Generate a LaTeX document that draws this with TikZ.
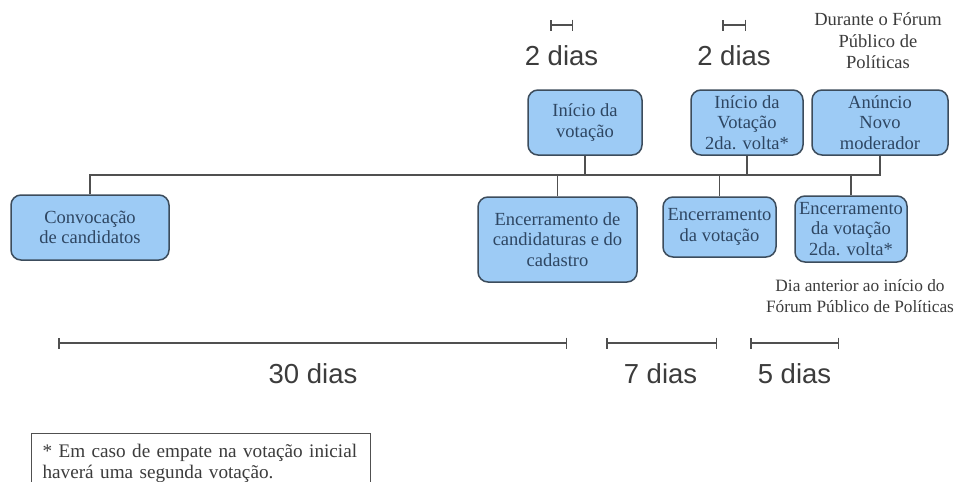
\documentclass[tikz,border=0pt]{standalone}
\usepackage{fontspec}
\setmainfont{Liberation Serif}
\newfontfamily\diasfont{Liberation Sans}
\usepackage{tikz}
\usetikzlibrary{positioning,arrows.meta}

\definecolor{boxblue}{RGB}{157,203,245}
\definecolor{boxline}{RGB}{60,76,92}
\definecolor{boxtext}{RGB}{46,70,98}
\definecolor{wire}{RGB}{80,80,80}
\definecolor{note}{RGB}{60,60,60}

\tikzset{
    etapa/.style={rectangle, rounded corners=10pt, draw=boxline, fill=boxblue, line width=1.5pt,
        text=boxtext, align=center, inner sep=0pt,
        font=\fontsize{18.5}{20.5}\selectfont},
    fio/.style={draw=wire, line width=1.5pt},
    prazo/.style={draw=wire, line width=1.5pt, {Bar[width=11pt]}-{Bar[width=11pt]}},
    dias/.style={text=note, anchor=base, inner sep=0pt, font=\diasfont\fontsize{27.5}{30}\selectfont},
    aviso/.style={text=note, align=center, inner sep=0pt, font=\fontsize{18.5}{21.5}\selectfont}
}

\begin{document}
\begin{tikzpicture}[x=1pt, y=-1pt]
    \useasboundingbox[fill=white] (0,0) rectangle (959,482);

    % etapas
    \node[etapa, minimum width=158pt, minimum height=65pt] (conv) at (90,227.5) {Convocação\\de candidatos};
    \node[etapa, minimum width=114pt, minimum height=65pt] (inicio) at (585,122.5) {Início da\\votação};
    \node[etapa, minimum width=159pt, minimum height=85pt] (encCand) at (557.5,239.5) {Encerramento de\\candidaturas e do\\cadastro};
    \node[etapa, minimum width=112pt, minimum height=65pt] (inicio2) at (747,122.5) {Início da\\Votação\\2da. volta*};
    \node[etapa, minimum width=113pt, minimum height=60pt] (encVot) at (719.5,227) {Encerramento\\da votação};
    \node[etapa, minimum width=136pt, minimum height=65pt] (anuncio) at (880,122.5) {Anúncio\\Novo\\moderador};
    \node[etapa, minimum width=112pt, minimum height=66pt] (encVot2) at (851,229) {Encerramento\\da votação\\2da. volta*};

    % linha do tempo
    \coordinate (bus) at (0,175);
    \draw[fio] (conv.north) |- (anuncio.south |- bus) -- (anuncio.south);
    \draw[fio] (inicio.south) -- (inicio.south |- bus);
    \draw[fio] (inicio2.south) -- (inicio2.south |- bus);
    \draw[fio] (encCand.north) -- (encCand.north |- bus);
    \draw[fio] (encVot.north) -- (encVot.north |- bus);
    \draw[fio] (encVot2.north) -- (encVot2.north |- bus);

    % avisos
    \node[aviso] (durante) at (878,41) {Durante o Fórum\\Público de\\Políticas};
    \node[aviso, font=\fontsize{17.3}{21.5}\selectfont] (anterior) at (860,296) {Dia anterior ao início do\\Fórum Público de Políticas};

    % prazos de cima
    \coordinate (p2a) at (550,25);
    \coordinate (p2b) at (573,25);
    \coordinate (p2c) at (722,25);
    \coordinate (p2d) at (746,25);
    \draw[prazo] (p2a) -- (p2b);
    \draw[prazo] (p2c) -- (p2d);
    \node[dias] (dois1) at (561.5,65) {2 dias};
    \node[dias] (dois2) at (734,65) {2 dias};

    % prazos de baixo
    \coordinate (p30a) at (58,343);
    \coordinate (p30b) at (567,343);
    \coordinate (p7a) at (606,343);
    \coordinate (p7b) at (717,343);
    \coordinate (p5a) at (750,343);
    \coordinate (p5b) at (839,343);
    \draw[prazo] (p30a) -- (p30b);
    \draw[prazo] (p7a) -- (p7b);
    \draw[prazo] (p5a) -- (p5b);
    \node[dias] (trinta) at (313,383) {30 dias};
    \node[dias] (sete) at (660.5,383) {7 dias};
    \node[dias] (cinco) at (794.5,383) {5 dias};

    % nota
    \node[draw=wire, line width=1.2pt, anchor=north west, text=note, align=left,
        text width=317pt, inner xsep=11pt, inner ysep=6pt, minimum height=60pt,
        font=\fontsize{19.2}{20.5}\selectfont] (nota) at (31,433)
        {* Em caso de empate na votação inicial\\haverá uma segunda votação.\\[6pt]};
\end{tikzpicture}
\end{document}
